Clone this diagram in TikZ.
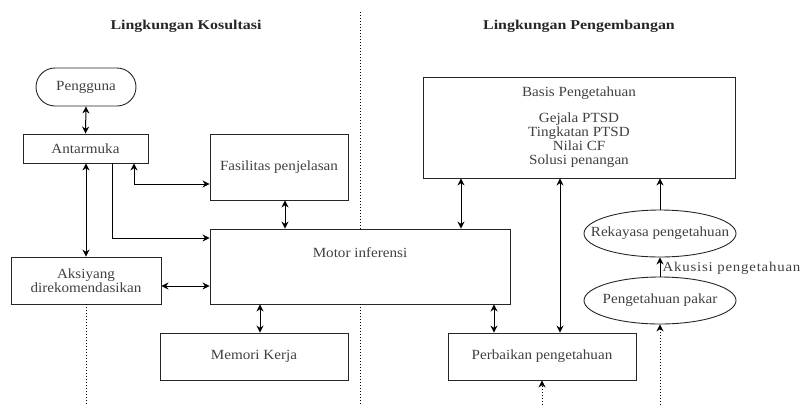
\documentclass[tikz,border=0pt]{standalone}
\usepackage{fontspec}
\setmainfont{Liberation Serif}[FakeStretch=1.08]
\newfontfamily\titlefont{Liberation Serif}[FakeStretch=1.18]
\newfontfamily\widefont{Liberation Serif}[FakeStretch=1.1,LetterSpace=6]
\usetikzlibrary{arrows.meta,shapes.geometric,shapes.misc,calc}
\begin{document}
\begin{tikzpicture}[x=1pt,y=-1pt,
  every node/.style={font=\rmfamily\fontsize{14}{14}\selectfont, text=black!75},
  box/.style={draw=black!85, line width=0.9pt, rectangle, inner sep=0pt, align=center},
  oval/.style={draw=black!85, line width=0.9pt, ellipse, inner sep=0pt, align=center},
  pill/.style={draw=black!85, line width=0.9pt, rounded rectangle, inner sep=0pt, align=center},
  conn/.style={line width=1pt, black},
  arr/.style={conn, -{Stealth[length=7pt,width=7pt]}},
  darr/.style={conn, {Stealth[length=7pt,width=7pt]}-{Stealth[length=7pt,width=7pt]}},
  dots/.style={line width=1pt, black, dotted},
  title/.style={font=\titlefont\bfseries\fontsize{13.5}{14}\selectfont, text=black!85}
]
\useasboundingbox (0,0) rectangle (803,405);

% titles
\node[title] (t1) at (186,26) {Lingkungan Kosultasi};
\node[title] (t2) at (579,26) {Lingkungan Pengembangan};

% nodes
\node[pill, minimum width=100, minimum height=38] (peng) at (86,87) {Pengguna};
\node[box, minimum width=125, minimum height=29] (antar) at (85.5,148.5) {Antarmuka};
\node[box, minimum width=138, minimum height=66] (fas) at (279,167) {Fasilitas penjelasan};
\node[box, minimum width=150, minimum height=47] (aksi) at (86,280.5) {Aksiyang\\direkomendasikan};
\node[box, minimum width=300, minimum height=75] (motor) at (360,266.5) {};
\node (motortxt) at ($(motor.north)+(0,24)$) {Motor inferensi};
\node[box, minimum width=188, minimum height=47] (mem) at (254,356.5) {Memori Kerja};
\node[box, minimum width=312, minimum height=101, align=center] (basis) at (579,127.5)
  {Basis Pengetahuan\\[12pt]Gejala PTSD\\Tingkatan PTSD\\Nilai CF\\Solusi penangan};
\node[box, minimum width=188, minimum height=47] (perb) at (542,356.5) {Perbaikan pengetahuan};
\node[oval, minimum width=152, minimum height=47] (reka) at (660,233.5) {\makebox[0pt]{Rekayasa pengetahuan}};
\node[oval, minimum width=152, minimum height=47] (pakar) at (660,300.5) {\makebox[0pt]{Pengetahuan pakar}};

% free-end coordinates
\coordinate (topmid) at (360,12);
\coordinate (b1) at (86,405);
\coordinate (b2) at (360,405);
\coordinate (b3) at (542,405);
\coordinate (b4) at (660,405);

% dividing dotted line
\draw[dots] (topmid) -- (motor.north -| topmid);
\draw[dots] (motor.south -| topmid) -- (b2);
\draw[dots] (aksi.south) -- (b1);

% connectors left side
\draw[darr] (peng.south) -- (antar.north);
\draw[darr] (antar.south -| aksi.north) -- (aksi.north);
\draw[darr] (antar.south -| 134,0) |- (fas.west |- 0,184);
\draw[arr] (antar.south -| 112,0) |- (motor.west |- 0,238);
\draw[darr] (aksi.east |- 0,286) -- (motor.west |- 0,286);
\draw[darr] (fas.south -| 285,0) -- (motor.north -| 285,0);
\draw[darr] (motor.south -| 260,0) -- (mem.north -| 260,0);

% connectors right side
\draw[darr] (basis.south -| 461,0) -- (motor.north -| 461,0);
\draw[darr] (basis.south -| 560,0) -- (perb.north -| 560,0);
\draw[darr] (motor.south -| 494,0) -- (perb.north -| 494,0);
\draw[arr] (reka.north) -- (basis.south -| reka.north);
\draw[arr] (pakar.north) -- node[right, font=\widefont\fontsize{13.5}{14}\selectfont, inner sep=2pt, yshift=-1pt] (aku) {Akusisi pengetahuan} (reka.south);
\draw[dots, -{Stealth[length=7pt,width=7pt]}] (b3) -- (perb.south);
\draw[dots, -{Stealth[length=7pt,width=7pt]}] (b4) -- (pakar.south);
\end{tikzpicture}
\end{document}
